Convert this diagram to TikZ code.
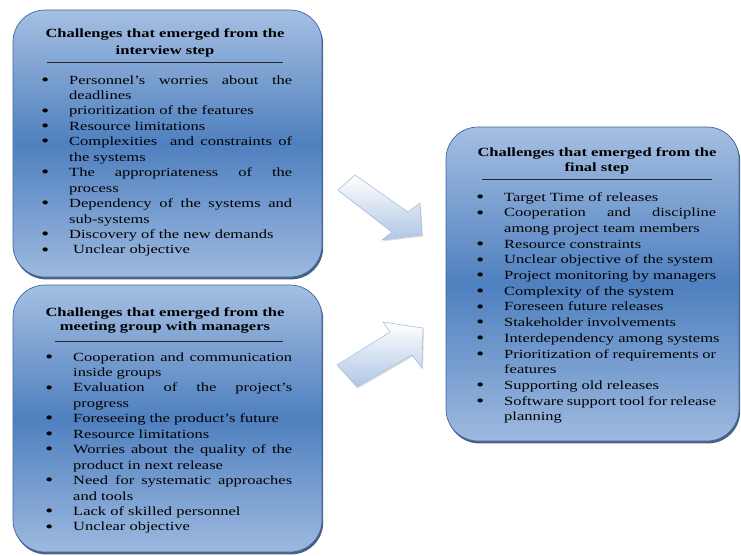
\documentclass[tikz,border=0pt]{standalone}
\usepackage{fontspec}
\setmainfont{Liberation Serif}[FakeStretch=1.32]
\usetikzlibrary{shadows}
\definecolor{boxtop}{HTML}{A5BFE2}
\definecolor{boxmid}{HTML}{4F80BF}
\definecolor{boxbot}{HTML}{9DB9DF}
\definecolor{panelline}{HTML}{3C66A2}
\definecolor{shadowc}{HTML}{1F3A60}
\definecolor{arrowline}{HTML}{A9C1DF}
\definecolor{arrowbot}{HTML}{AFC6E4}
\newlength\lw
\newcommand\itm[1]{\llap{\raisebox{-1.1pt}{\scalebox{1.35}{\textbullet}}\hspace{20pt}}#1}
\newcommand\jus[1]{\makebox[\lw][s]{#1}}
\tikzset{
  panel/.style={rounded corners=32pt, draw=panelline, line width=0.7pt,
    top color=boxtop, bottom color=boxbot, middle color=boxmid,
    drop shadow={shadow xshift=1.2pt, shadow yshift=-2.4pt, opacity=0.8, fill=shadowc},
    inner sep=0pt},
  ln/.style={anchor=base west, inner sep=0pt, font=\fontsize{12.5}{15}\selectfont, text=black},
  ttl/.style={anchor=base, inner sep=0pt, font=\fontsize{12.5}{15}\selectfont\bfseries, text=black},
  rulel/.style={line width=0.8pt, draw=black!85},
  blockarrow/.style={top color=white, bottom color=arrowbot, draw=arrowline, line width=0.6pt,
    line join=miter, drop shadow={shadow xshift=1pt, shadow yshift=-1.5pt, opacity=0.25, fill=black!50}}
}
\begin{document}
\begin{tikzpicture}[x=1pt,y=-1pt]
\useasboundingbox (0,0) rectangle (741,555);
% panels
\node[panel, minimum width=309pt, minimum height=267pt] (p1) at (167.5,143.5) {};
\node[panel, minimum width=309pt, minimum height=267pt] (p2) at (167.5,418.5) {};
\node[panel, minimum width=293pt, minimum height=314pt] (p3) at (592.5,284) {};
% block arrows
\shade[blockarrow] (355,175) -- (408,212) -- (420,203) -- (422,235) -- (382,240) -- (392,232) -- (338,190) -- cycle;
\shade[blockarrow] (337,365) -- (390,332) -- (383,322) -- (423,328) -- (422,368) -- (412,355) -- (357,387) -- cycle;
% titles
\node[ttl] (t1a) at (165,37.5) {Challenges that emerged from the};
\node[ttl] (t1b) at (165,54) {interview step};
\draw[rulel] (47,62) -- (283,62);
\node[ttl] (t2a) at (165,316) {Challenges that emerged from the};
\node[ttl] (t2b) at (165,330.5) {meeting group with managers};
\draw[rulel] (55,341) -- (283,341);
\node[ttl] (t3a) at (597,156) {Challenges that emerged from the};
\node[ttl] (t3b) at (597,171) {final step};
\draw[rulel] (482,179) -- (712,179);
% box 1 list
\setlength\lw{223pt}
\foreach \t [count=\i from 0] in {
  {\itm{\jus{Personnel’s worries about the}}},
  {deadlines},
  {\itm{prioritization of the features}},
  {\itm{Resource limitations}},
  {\itm{\jus{Complexities\ \ and constraints of}}},
  {the systems},
  {\itm{\jus{The appropriateness of the}}},
  {process},
  {\itm{\jus{Dependency of the systems and}}},
  {sub-systems},
  {\itm{Discovery of the new demands}},
  {\itm{\hspace{4pt}Unclear objective}}}
  \node[ln] (a\i) at (69,{84+\i*15.45}) {\t};
% box 2 list
\setlength\lw{219pt}
\foreach \t [count=\i from 0] in {
  {\itm{\jus{Cooperation and communication}}},
  {inside groups},
  {\itm{\jus{Evaluation of the project’s}}},
  {progress},
  {\itm{Foreseeing the product’s future}},
  {\itm{Resource limitations}},
  {\itm{\jus{Worries about the quality of the}}},
  {product in next release},
  {\itm{\jus{Need for systematic approaches}}},
  {and tools},
  {\itm{Lack of skilled personnel}},
  {\itm{Unclear objective}}}
  \node[ln] (b\i) at (73,{361+\i*15.45}) {\t};
% box 3 list
\setlength\lw{212pt}
\foreach \t [count=\i from 0] in {
  {\itm{Target Time of releases}},
  {\itm{\jus{Cooperation and discipline}}},
  {among project team members},
  {\itm{Resource constraints}},
  {\itm{Unclear objective of the system}},
  {\itm{Project monitoring by managers}},
  {\itm{Complexity of the system}},
  {\itm{Foreseen future releases}},
  {\itm{Stakeholder involvements}},
  {\itm{Interdependency among systems}},
  {\itm{\jus{Prioritization of requirements or}}},
  {features},
  {\itm{Supporting old releases}},
  {\itm{\jus{Software support tool for release}}},
  {planning}}
  \node[ln] (c\i) at (504,{201.3+\i*15.67}) {\t};
\end{tikzpicture}
\end{document}
